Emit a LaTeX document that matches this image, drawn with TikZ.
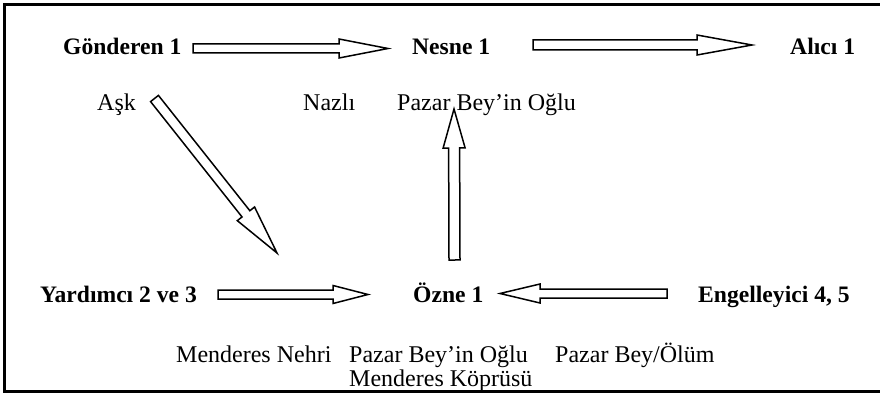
\documentclass[tikz,border=0pt]{standalone}
\usepackage{fontspec}
\setmainfont{Liberation Serif}
\usetikzlibrary{calc}

% Outlined block arrow: tail, tip, half shaft width, half head width, head length
\newcommand{\blockarrow}[5]{%
  \coordinate (ba-h) at ($(#2)!#5!(#1)$);
  \draw[blockline]
    ($(#1)!#3!90:(#2)$) -- ($(ba-h)!#3!90:(#2)$) -- ($(ba-h)!#4!90:(#2)$) --
    (#2) --
    ($(ba-h)!#4!-90:(#2)$) -- ($(ba-h)!#3!-90:(#2)$) -- ($(#1)!#3!-90:(#2)$) -- cycle;
}

\begin{document}
\begin{tikzpicture}[x=1pt,y=-1pt,
  role/.style={font=\fontsize{23.6}{28}\selectfont\bfseries, inner sep=0pt, anchor=base west},
  actor/.style={font=\fontsize{24}{28}\selectfont, inner sep=0pt, anchor=base west},
  blockline/.style={draw=black, line width=1.5pt, fill=white, line join=miter}]
\useasboundingbox (0,0) rectangle (880,393);

% frame (open on the right)
\draw[line width=2.6pt] (900,4.5) -- (4.5,4.5) -- (4.5,391.5) -- (900,391.5);

% actantial roles
\node[role] (gonderen) at (63,55)  {Gönderen 1};
\node[role] (nesne)    at (412,55) {Nesne 1};
\node[role] (alici)    at (790,55) {Alıcı 1};
\node[role] (yardimci) at (40,302) {Yardımcı 2 ve 3};
\node[role] (ozne)     at (413,302) {Özne 1};
\node[role] (engel)    at (698,302) {Engelleyici 4, 5};

% characters filling the roles
\node[actor] (ask)     at (97,111)  {Aşk};
\node[actor] (nazli)   at (303,111) {Nazlı};
\node[actor] (oglu1)   at (397,111) {Pazar Bey’in Oğlu};
\node[actor] (nehir)   at (176,362) {Menderes Nehri};
\node[actor] (oglu2)   at (349,362) {Pazar Bey’in Oğlu};
\node[actor] (olum)    at (555,362) {Pazar Bey/Ölüm};
\node[actor] (kopru)   at (349,386) {Menderes Köprüsü};

% arrow ends
\coordinate (a1s) at (193,48.5);  \coordinate (a1e) at (388,48.5);
\coordinate (a2s) at (533,45);    \coordinate (a2e) at (752,45);
\coordinate (a3s) at (154.5,98.5); \coordinate (a3e) at (277,253);
\coordinate (a4s) at (454.5,260); \coordinate (a4e) at (454,109);
\coordinate (a5s) at (218,294.5); \coordinate (a5e) at (368,294.5);
\coordinate (a6s) at (667,293.5); \coordinate (a6e) at (500,293.5);

\blockarrow{a1s}{a1e}{4.5pt}{9.5pt}{49pt}
\blockarrow{a2s}{a2e}{5pt}{10pt}{55pt}
\blockarrow{a3s}{a3e}{5pt}{11pt}{50pt}
\blockarrow{a4s}{a4e}{5.5pt}{11pt}{39pt}
\blockarrow{a5s}{a5e}{4.5pt}{9pt}{35pt}
\blockarrow{a6s}{a6e}{4.5pt}{9.5pt}{40pt}
\end{tikzpicture}
\end{document}
